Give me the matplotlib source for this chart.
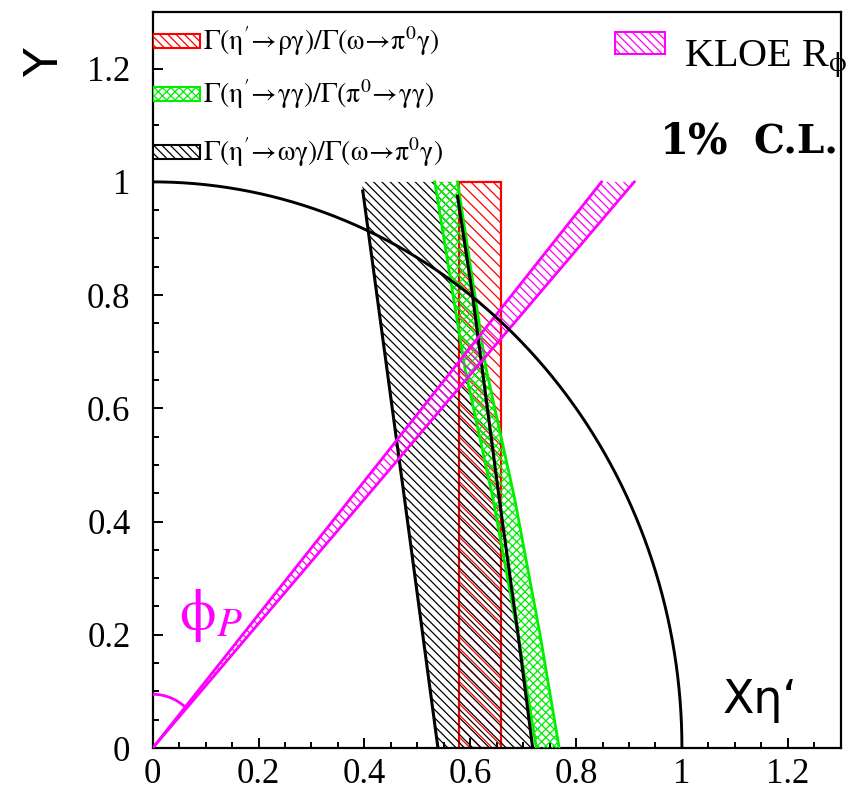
import numpy as np
import matplotlib.pyplot as plt
from matplotlib.patches import Polygon, Rectangle, Arc

plt.rcParams['mathtext.fontset'] = 'stix'
plt.rcParams['hatch.linewidth'] = 0.9

# axis ticks
major_ticks = [0, 0.2, 0.4, 0.6, 0.8, 1.0, 1.2]
tick_labels = ['0', '0.2', '0.4', '0.6', '0.8', '1', '1.2']

# G(eta' -> rho gamma)/G(omega -> pi0 gamma): allowed X range
rho_x = [0.578, 0.658]

# G(eta' -> gamma gamma)/G(pi0 -> gamma gamma): band edges
gg_y = [1.0, 0.67, 0.44, 0.2, 0.0]
gg_left = [0.533, 0.590, 0.643, 0.690, 0.725]
gg_right = [0.576, 0.630, 0.684, 0.732, 0.768]

# G(eta' -> omega gamma)/G(omega -> pi0 gamma): band edges
wg_left_y = [0.984, 0.439, 0.0]
wg_left_x = [0.397, 0.476, 0.539]
wg_right_y = [0.975, 0.802, 0.439, 0.203, 0.0]
wg_right_x = [0.576, 0.604, 0.655, 0.690, 0.718]

# KLOE R_phi: pseudoscalar mixing angle range (degrees)
kloe_phi = [40.3, 42.3]


def extend_to_top(xs, ys):
    # linear extrapolation of an edge up to Y = 1
    x0, x1, y0, y1 = xs[0], xs[1], ys[0], ys[1]
    return x0 + (x0 - x1) * (1.0 - y0) / (y0 - y1)


fig = plt.figure(figsize=(8.53, 7.86), dpi=100)
ax = fig.add_axes([0.179, 0.0483, 0.8066, 0.9364])
ax.set_xlim(0, 1.3)
ax.set_ylim(0, 1.3)

# rho gamma band
ax.add_patch(Rectangle((rho_x[0], 0), rho_x[1] - rho_x[0], 1.0, facecolor='none',
                       edgecolor='red', hatch='\\\\\\', linewidth=1.6, zorder=2))

# omega gamma band
top_l = extend_to_top(wg_left_x, wg_left_y)
top_r = extend_to_top(wg_right_x, wg_right_y)
wg_poly = [(top_l, 1.0)] + list(zip(wg_left_x, wg_left_y)) \
    + list(zip(wg_right_x, wg_right_y))[::-1] + [(top_r, 1.0)]
ax.add_patch(Polygon(wg_poly, closed=True, facecolor='none', edgecolor='black',
                     hatch='\\\\\\\\', linewidth=0, zorder=3))
ax.plot(wg_left_x, wg_left_y, color='black', lw=2.2, zorder=5)
ax.plot(wg_right_x, wg_right_y, color='black', lw=2.2, zorder=5)

# gamma gamma band
gg_poly = list(zip(gg_left, gg_y)) + list(zip(gg_right, gg_y))[::-1]
ax.add_patch(Polygon(gg_poly, closed=True, facecolor='none', edgecolor='#00ee00',
                     hatch='xxxx', linewidth=0, zorder=4))
ax.plot(gg_left, gg_y, color='#00ee00', lw=2.0, zorder=4)
ax.plot(gg_right, gg_y, color='#00ee00', lw=2.0, zorder=4)

# KLOE band from the origin
phi = np.radians(kloe_phi)
tips = np.tan(phi)
kloe_poly = [(0, 0), (tips[0], 1.0), (tips[1], 1.0)]
ax.add_patch(Polygon(kloe_poly, closed=True, facecolor='none', edgecolor='magenta',
                     hatch='\\\\\\\\', linewidth=0, zorder=4))
for t in tips:
    ax.plot([0, t], [0, 1.0], color='magenta', lw=2.0, zorder=6)

# phi_P angle marker
ax.add_patch(Arc((0, 0), 0.19, 0.19, theta1=90 - np.mean(kloe_phi), theta2=90,
                 color='magenta', lw=2.0, zorder=6))
ax.text(0.05, 0.21, r'$\mathrm{\phi}_{P}$', color='magenta', fontsize=42, zorder=7)

# unit circle X^2 + Y^2 = 1
th = np.linspace(0, np.pi / 2, 300)
ax.plot(np.cos(th), np.sin(th), color='black', lw=2.1, zorder=6)

# legend entries
legend_rows = [
    ('red', 1.237, r'$\mathrm{\Gamma(\eta^{\prime}\!\rightarrow\!\rho\gamma)/\Gamma(\omega\!\rightarrow\!\pi^{0}\gamma)}$', '\\\\\\\\'),
    ('#00ee00', 1.143, r'$\mathrm{\Gamma(\eta^{\prime}\!\rightarrow\!\gamma\gamma)/\Gamma(\pi^{0}\!\rightarrow\!\gamma\gamma)}$', 'xxxx'),
    ('black', 1.041, r'$\mathrm{\Gamma(\eta^{\prime}\!\rightarrow\!\omega\gamma)/\Gamma(\omega\!\rightarrow\!\pi^{0}\gamma)}$', '\\\\\\\\'),
]
for col, yb, lab, h in legend_rows:
    ax.add_patch(Rectangle((0.0, yb), 0.09, 0.024, facecolor='white', edgecolor=col,
                           hatch=h, linewidth=1.5, zorder=8))
    ax.text(0.095, yb + 0.012, lab, fontsize=20, va='center', ha='left', zorder=8)

ax.add_patch(Rectangle((0.874, 1.225), 0.094, 0.040, facecolor='white',
                       edgecolor='magenta', hatch='\\\\\\\\', linewidth=1.5, zorder=8))
ax.text(1.004, 1.204, r'KLOE R$_{\mathrm{\phi}}$', fontsize=29, family='Liberation Serif',
        va='baseline', ha='left')

ax.text(1.087, 1.050, '1%', fontsize=30, family='DejaVu Serif', weight='bold',
        va='baseline', ha='right')
ax.text(1.296, 1.050, 'C.L.', fontsize=28, family='DejaVu Serif', weight='bold',
        va='baseline', ha='right')

ax.text(1.077, 0.062, 'X\u03b7\u2018', fontsize=33, family='DejaVu Sans',
        va='baseline', ha='left')
fig.text(0.054, 0.921, 'Y', fontsize=34, family='DejaVu Sans', rotation=90,
         ha='center', va='center')

# axes styling
ax.set_xticks(major_ticks)
ax.set_yticks(major_ticks)
ax.set_xticklabels(tick_labels, family='Liberation Serif', fontsize=25)
ax.set_yticklabels(tick_labels, family='Liberation Serif', fontsize=25)
ax.set_xticks(np.arange(0, 1.31, 0.05), minor=True)
ax.set_yticks(np.arange(0, 1.31, 0.05), minor=True)
ax.tick_params(which='both', direction='in', width=1.4, top=False, right=False)
ax.tick_params(which='major', length=7.5)
ax.tick_params(which='minor', length=4.5)
ax.tick_params(axis='y', pad=16)
ax.tick_params(axis='x', pad=7)
for sp in ax.spines.values():
    sp.set_linewidth(1.6)

fig.savefig('out.png', dpi=100)
